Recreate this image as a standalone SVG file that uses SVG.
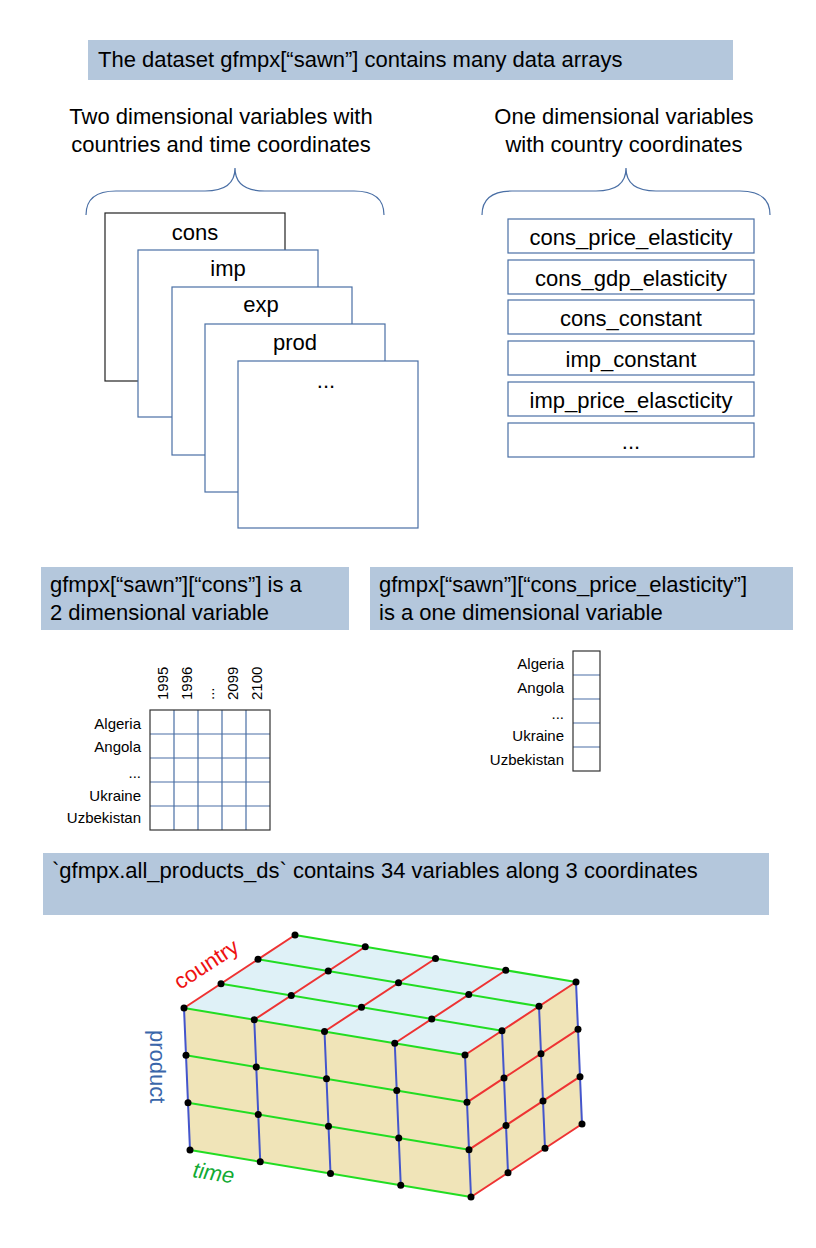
<svg xmlns="http://www.w3.org/2000/svg" width="816" height="1248" viewBox="0 0 816 1248">
<style>
text{font-family:"Liberation Sans",Arial,sans-serif;fill:#000}
.t22{font-size:22px}
.t15{font-size:15px}
.hd{fill:#b4c7dc}
.box{fill:#fff;stroke:#4a6fa5;stroke-width:1.2}
.brace{fill:none;stroke:#4a6fa5;stroke-width:1.2}
.grid{fill:none;stroke:#4a6fa5;stroke-width:1.2}
.gr{stroke:#22dd22;stroke-width:2}
.rd{stroke:#ee3333;stroke-width:2}
.bl{stroke:#4455cc;stroke-width:2}
</style>
<rect width="816" height="1248" fill="#fff"/>
<g id="title"><rect class="hd" x="88" y="40" width="645" height="40"/><text class="t22" x="98" y="67">The dataset gfmpx[“sawn”] contains many data arrays</text></g>
<g id="head2d"><text class="t22" text-anchor="middle" x="221" y="124">Two dimensional variables with</text><text class="t22" text-anchor="middle" x="221" y="152">countries and time coordinates</text>
<path class="brace" d="M86,215 Q86,191 116,191 L205,191 Q235,191 235,168 Q235,191 265,191 L354,191 Q384,191 384,215"/></g>
<g id="head1d"><text class="t22" text-anchor="middle" x="624" y="124">One dimensional variables</text><text class="t22" text-anchor="middle" x="624" y="152">with country coordinates</text>
<path class="brace" d="M482,215 Q482,191 512,191 L596,191 Q626,191 626,168 Q626,191 656,191 L740,191 Q770,191 770,215"/></g>
<g id="stack">
<rect class="box" x="105" y="213" width="180" height="168" style="stroke:#222"/><text class="t22" text-anchor="middle" x="195" y="240">cons</text>
<rect class="box" x="138" y="250" width="180" height="167"/><text class="t22" text-anchor="middle" x="228" y="276">imp</text>
<rect class="box" x="172" y="287" width="180" height="168"/><text class="t22" text-anchor="middle" x="261" y="312">exp</text>
<rect class="box" x="205" y="324" width="180" height="168"/><text class="t22" text-anchor="middle" x="295" y="350">prod</text>
<rect class="box" x="238" y="361" width="180" height="167"/><text class="t22" text-anchor="middle" x="326" y="388">...</text>
</g>
<g id="list" class="t22" text-anchor="middle">
<rect class="box" x="508" y="219" width="246" height="34"/><text x="631" y="245">cons_price_elasticity</text>
<rect class="box" x="508" y="260" width="246" height="34"/><text x="631" y="286">cons_gdp_elasticity</text>
<rect class="box" x="508" y="300" width="246" height="34"/><text x="631" y="326">cons_constant</text>
<rect class="box" x="508" y="341" width="246" height="34"/><text x="631" y="367">imp_constant</text>
<rect class="box" x="508" y="382" width="246" height="34"/><text x="631" y="408">imp_price_elascticity</text>
<rect class="box" x="508" y="423" width="246" height="34"/><text x="631" y="449">...</text>
</g>
<g id="sec2l"><rect class="hd" x="41" y="567" width="308" height="63"/><text class="t22" x="50" y="592">gfmpx[“sawn”][“cons”] is a</text><text class="t22" x="50" y="620">2 dimensional variable</text></g>
<g id="sec2r"><rect class="hd" x="370" y="567" width="423" height="63"/><text class="t22" x="379" y="592">gfmpx[“sawn”][“cons_price_elasticity”]</text><text class="t22" x="379" y="620">is a one dimensional variable</text></g>
<g id="grid2d">
<path class="grid" d="M174,710V830M198,710V830M222,710V830M246,710V830M150,734H270M150,758H270M150,782H270M150,806H270"/>
<rect x="150" y="710" width="120" height="120" fill="none" stroke="#333" stroke-width="1.2"/>
<g class="t15" text-anchor="end"><text x="141" y="729">Algeria</text><text x="141" y="752">Angola</text><text x="141" y="778">...</text><text x="141" y="801">Ukraine</text><text x="141" y="823">Uzbekistan</text></g>
<g class="t15"><text transform="translate(168,700) rotate(-90)">1995</text><text transform="translate(192,700) rotate(-90)">1996</text><text transform="translate(214,700) rotate(-90)">...</text><text transform="translate(238,700) rotate(-90)">2099</text><text transform="translate(262,700) rotate(-90)">2100</text></g>
</g>
<g id="grid1d">
<path class="grid" d="M573,675H600M573,699H600M573,723H600M573,747H600"/>
<rect x="573" y="651" width="27" height="120" fill="none" stroke="#333" stroke-width="1.2"/>
<g class="t15" text-anchor="end"><text x="564" y="669">Algeria</text><text x="564" y="693">Angola</text><text x="564" y="719">...</text><text x="564" y="741">Ukraine</text><text x="564" y="765">Uzbekistan</text></g>
</g>
<g id="sec3"><rect class="hd" x="43" y="853" width="726" height="62"/><text class="t22" x="52" y="878">`gfmpx.all_products_ds` contains 34 variables along 3 coordinates</text></g>
<g id="cube">
<polygon points="184,1008 465,1055 576,982 295,935" fill="#dff1f7"/>
<polygon points="184,1008 465,1055 471,1197 190,1150" fill="#f0e4b8"/>
<polygon points="465,1055 576,982 582,1124 471,1197" fill="#f0e4b8"/>
<g fill="none">
<path class="gr" d="M184,1008L465,1055M221,983.7L502,1030.7M258,959.3L539,1006.3M295,935L576,982M186,1055.3L467,1102.3M188,1102.7L469,1149.7M190,1150L471,1197"/>
<path class="rd" d="M184,1008L295,935M254.25,1019.75L365.25,946.75M324.5,1031.5L435.5,958.5M394.75,1043.25L505.75,970.25M465,1055L576,982M467,1102.3L578,1029.3M469,1149.7L580,1076.7M471,1197L582,1124"/>
<path class="bl" d="M184,1008L190,1150M254.25,1019.75L260.25,1161.75M324.5,1031.5L330.5,1173.5M394.75,1043.25L400.75,1185.25M465,1055L471,1197M502,1030.7L508,1172.7M539,1006.3L545,1148.3M576,982L582,1124"/>
</g>
<g fill="#000">
<circle cx="184" cy="1008" r="3.5"/><circle cx="254.25" cy="1019.75" r="3.5"/><circle cx="324.5" cy="1031.5" r="3.5"/><circle cx="394.75" cy="1043.25" r="3.5"/><circle cx="465" cy="1055" r="3.5"/>
<circle cx="221" cy="983.7" r="3.5"/><circle cx="291.25" cy="995.4" r="3.5"/><circle cx="361.5" cy="1007.2" r="3.5"/><circle cx="431.75" cy="1018.9" r="3.5"/><circle cx="502" cy="1030.7" r="3.5"/>
<circle cx="258" cy="959.3" r="3.5"/><circle cx="328.25" cy="971.1" r="3.5"/><circle cx="398.5" cy="982.8" r="3.5"/><circle cx="468.75" cy="994.6" r="3.5"/><circle cx="539" cy="1006.3" r="3.5"/>
<circle cx="295" cy="935" r="3.5"/><circle cx="365.25" cy="946.75" r="3.5"/><circle cx="435.5" cy="958.5" r="3.5"/><circle cx="505.75" cy="970.25" r="3.5"/><circle cx="576" cy="982" r="3.5"/>
<circle cx="186" cy="1055.3" r="3.5"/><circle cx="256.25" cy="1067.1" r="3.5"/><circle cx="326.5" cy="1078.8" r="3.5"/><circle cx="396.75" cy="1090.6" r="3.5"/><circle cx="467" cy="1102.3" r="3.5"/>
<circle cx="188" cy="1102.7" r="3.5"/><circle cx="258.25" cy="1114.4" r="3.5"/><circle cx="328.5" cy="1126.2" r="3.5"/><circle cx="398.75" cy="1137.9" r="3.5"/><circle cx="469" cy="1149.7" r="3.5"/>
<circle cx="190" cy="1150" r="3.5"/><circle cx="260.25" cy="1161.75" r="3.5"/><circle cx="330.5" cy="1173.5" r="3.5"/><circle cx="400.75" cy="1185.25" r="3.5"/><circle cx="471" cy="1197" r="3.5"/>
<circle cx="504" cy="1078" r="3.5"/><circle cx="541" cy="1053.7" r="3.5"/><circle cx="578" cy="1029.3" r="3.5"/>
<circle cx="506" cy="1125.4" r="3.5"/><circle cx="543" cy="1101" r="3.5"/><circle cx="580" cy="1076.7" r="3.5"/>
<circle cx="508" cy="1172.7" r="3.5"/><circle cx="545" cy="1148.3" r="3.5"/><circle cx="582" cy="1124" r="3.5"/>
</g>
<text transform="translate(180,990) rotate(-33)" style="font-size:22px;fill:#ee1111">country</text>
<text transform="translate(150,1030) rotate(90)" style="font-size:22px;fill:#3a66aa">product</text>
<text transform="translate(192,1177) rotate(9)" style="font-size:22px;fill:#11aa33;font-style:italic">time</text>
</g>
</svg>
